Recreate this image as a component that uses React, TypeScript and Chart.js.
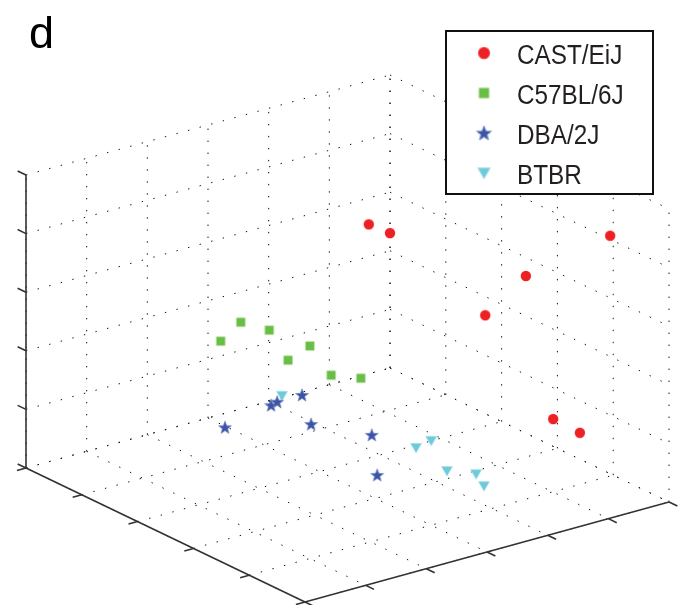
import { useEffect, useRef } from "react";
import { Chart, registerables } from "chart.js";

Chart.register(...registerables);

// ---- Data (3D coordinates: a = x-axis 0..6, b = y-axis 0..5, c = z-axis 0..5) ----
const SERIES_NAMES = ["CAST/EiJ", "C57BL/6J", "DBA/2J", "BTBR"];

const castA = [4.73, 4.62, 5.49, 5.02, 4.81, 5.01, 4.99];
const castB = [1.0, 1.5, 4.5, 3.5, 3.0, 4.0, 4.5];
const castC = [3.27, 3.38, 4.46, 3.45, 2.61, 1.24, 1.24];

const c57A = [2.29, 2.62, 2.63, 2.48, 3.3, 3.19, 3.68];
const c57B = [1.0, 1.0, 1.5, 2.0, 1.5, 2.0, 2.0];
const c57C = [1.97, 2.2, 2.29, 2.05, 1.83, 1.59, 1.4];

const dbaA = [1.44, 2.2, 2.3, 2.71, 2.4, 2.94, 2.57];
const dbaB = [2.0, 2.0, 2.0, 2.0, 2.5, 3.0, 3.5];
const dbaC = [1.2, 1.36, 1.39, 1.39, 1.21, 1.1, 0.75];

const btbrA = [2.38, 3.21, 3.46, 3.26, 3.74, 3.87];
const btbrB = [2.0, 3.5, 3.5, 4.0, 4.0, 4.0];
const btbrC = [1.47, 1.03, 1.08, 0.85, 0.66, 0.42];

const A_TICKS = [0, 1, 2, 3, 4, 5, 6];
const B_TICKS = [0, 1, 2, 3, 4, 5];
const C_TICKS = [0, 1, 2, 3, 4, 5];

const PANEL_LABEL = "d";

// ---- View (orthographic projection of the 3D box into the 2D scale space) ----
const VIEW = { ox: 26, oy: 468, ax: 60.67, ay: -16.67, bx: 55.8, by: 26.8, cz: -58.6 };
function project(a: number, b: number, c: number) {
  return {
    x: VIEW.ox + a * VIEW.ax + b * VIEW.bx,
    y: VIEW.oy + a * VIEW.ay + b * VIEW.by + c * VIEW.cz,
  };
}

const COLORS = {
  cast: "#ED2024",
  c57: "#69BE45",
  dba: "#3C54A5",
  btbr: "#6DCADB",
};

function makeCircle() {
  const cv = document.createElement("canvas");
  cv.width = 14; cv.height = 14;
  const g = cv.getContext("2d")!;
  g.fillStyle = COLORS.cast;
  g.beginPath(); g.arc(7, 7, 5.2, 0, Math.PI * 2); g.fill();
  return cv;
}
function makeSquare() {
  const cv = document.createElement("canvas");
  cv.width = 12; cv.height = 12;
  const g = cv.getContext("2d")!;
  g.fillStyle = COLORS.c57;
  g.fillRect(1.75, 1.75, 8.5, 8.5);
  g.strokeStyle = "#a3d98c"; g.lineWidth = 0.6;
  g.strokeRect(1.75, 1.75, 8.5, 8.5);
  return cv;
}
function makeStar() {
  const cv = document.createElement("canvas");
  cv.width = 16; cv.height = 16;
  const g = cv.getContext("2d")!;
  g.beginPath();
  for (let k = 0; k < 10; k++) {
    const r = k % 2 === 0 ? 6.8 : 2.8;
    const ang = -Math.PI / 2 + (k * Math.PI) / 5;
    const x = 8 + r * Math.cos(ang), y = 8.6 + r * Math.sin(ang);
    if (k === 0) g.moveTo(x, y); else g.lineTo(x, y);
  }
  g.closePath();
  g.fillStyle = COLORS.dba; g.fill();
  g.strokeStyle = "#7387c6"; g.lineWidth = 0.7; g.stroke();
  return cv;
}
function makeTriangle() {
  const cv = document.createElement("canvas");
  cv.width = 14; cv.height = 14;
  const g = cv.getContext("2d")!;
  g.beginPath();
  g.moveTo(1.5, 2.5); g.lineTo(12.5, 2.5); g.lineTo(7, 12); g.closePath();
  g.fillStyle = COLORS.btbr; g.fill();
  g.strokeStyle = "#a9e0ea"; g.lineWidth = 0.7; g.stroke();
  return cv;
}

export default function App() {
  const ref = useRef<HTMLCanvasElement | null>(null);

  useEffect(() => {
    document.body.style.margin = "0";
    const canvas = ref.current;
    if (!canvas) return;

    const icons = [makeCircle(), makeSquare(), makeStar(), makeTriangle()];
    const series = [
      { a: castA, b: castB, c: castC, order: 1 },
      { a: c57A, b: c57B, c: c57C, order: 1 },
      { a: dbaA, b: dbaB, c: dbaC, order: 0 },
      { a: btbrA, b: btbrB, c: btbrC, order: 2 },
    ];

    const markerSets: any[] = series.map((s, i) => ({
      label: SERIES_NAMES[i],
      data: s.a.map((a, j) => project(a, s.b[j], s.c[j])),
      pointStyle: icons[i],
      pointRadius: 6,
      showLine: false,
      order: s.order,
      clip: false,
    }));

    const aMax = A_TICKS[A_TICKS.length - 1];
    const bMax = B_TICKS[B_TICKS.length - 1];
    const cMax = C_TICKS[C_TICKS.length - 1];

    const segs: [number, number, number][][] = [];
    // floor
    B_TICKS.forEach((b) => segs.push([[0, b, 0], [aMax, b, 0]]));
    A_TICKS.forEach((a) => segs.push([[a, 0, 0], [a, bMax, 0]]));
    // back-left wall (b = 0)
    A_TICKS.forEach((a) => segs.push([[a, 0, 0], [a, 0, cMax]]));
    C_TICKS.forEach((c) => segs.push([[0, 0, c], [aMax, 0, c]]));
    // back-right wall (a = max)
    B_TICKS.forEach((b) => segs.push([[aMax, b, 0], [aMax, b, cMax]]));
    C_TICKS.forEach((c) => segs.push([[aMax, 0, c], [aMax, bMax, c]]));

    const gridSets: any[] = segs.map((s) => ({
      data: s.map((p) => project(p[0], p[1], p[2])),
      showLine: true,
      pointRadius: 0,
      borderColor: "#111111",
      borderWidth: 1,
      borderDash: [1.4, 10.6],
      fill: false,
      order: 10,
      clip: false,
    }));

    const axisSegs: [number, number, number][][] = [
      [[0, 0, 0], [0, 0, cMax]],
      [[0, 0, 0], [0, bMax, 0]],
      [[0, bMax, 0], [aMax, bMax, 0]],
    ];
    const TL = 0.15;
    C_TICKS.forEach((c) => axisSegs.push([[0, 0, c], [0, -TL, c]]));
    B_TICKS.forEach((b) => axisSegs.push([[0, b, 0], [-TL, b, 0]]));
    A_TICKS.forEach((a) => axisSegs.push([[a, bMax, 0], [a, bMax + TL, 0]]));

    const axisSets: any[] = axisSegs.map((s) => ({
      data: s.map((p) => project(p[0], p[1], p[2])),
      showLine: true,
      pointRadius: 0,
      borderColor: "#333333",
      borderWidth: 1.6,
      fill: false,
      order: 5,
      clip: false,
    }));

    const overlay = {
      id: "overlay",
      afterDraw(chart: any) {
        const ctx = chart.ctx as CanvasRenderingContext2D;
        ctx.save();
        ctx.fillStyle = "#000";
        ctx.textBaseline = "alphabetic";
        ctx.font = '45px "Liberation Sans", Arial, sans-serif';
        ctx.fillText(PANEL_LABEL, 29, 48);

        ctx.fillStyle = "#fff";
        ctx.fillRect(446, 31, 207, 163);
        ctx.lineWidth = 2;
        ctx.strokeStyle = "#111";
        ctx.strokeRect(446, 31, 207, 163);

        ctx.font = '27px "Liberation Sans", Arial, sans-serif';
        ctx.fillStyle = "#231f20";
        SERIES_NAMES.forEach((name, i) => {
          const y = 53 + i * 40;
          const ic = icons[i];
          const sc = 1.15;
          ctx.drawImage(ic, 484 - (ic.width * sc) / 2, y - (ic.height * sc) / 2, ic.width * sc, ic.height * sc);
          ctx.save();
          ctx.translate(517, y + 11);
          ctx.scale(0.9, 1);
          ctx.fillText(name, 0, 0);
          ctx.restore();
        });
        ctx.restore();
      },
    };

    const chart = new Chart(canvas, {
      type: "scatter",
      data: { datasets: [...markerSets, ...axisSets, ...gridSets] },
      options: {
        animation: false,
        responsive: false,
        events: [],
        layout: { padding: 0, autoPadding: false },
        plugins: { legend: { display: false }, tooltip: { enabled: false } },
        scales: {
          x: { type: "linear", min: 0, max: 684, display: false },
          y: { type: "linear", min: 0, max: 605, reverse: true, display: false },
        },
      },
      plugins: [overlay],
    });
    return () => chart.destroy();
  }, []);

  return (
    <div style={{ width: 684, height: 605, background: "#fff" }}>
      <canvas ref={ref} width={684} height={605} style={{ display: "block" }} />
    </div>
  );
}
